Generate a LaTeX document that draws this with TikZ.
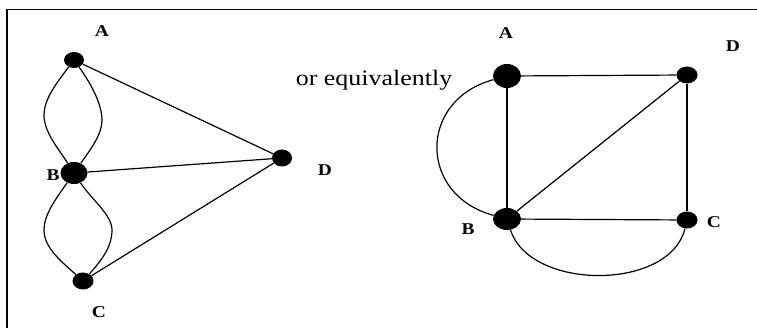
\documentclass[tikz,border=0pt]{standalone}
\usepackage{fontspec}
\setmainfont[FakeStretch=1.18]{Liberation Serif}
\usetikzlibrary{shapes.geometric}
\begin{document}
\begin{tikzpicture}[x=1pt,y=-1pt,
  vtx/.style={ellipse,fill=black,draw=none,inner sep=0pt},
  sm/.style={vtx,minimum width=20pt,minimum height=16pt},
  bg/.style={vtx,minimum width=27pt,minimum height=22pt},
  lbl/.style={font=\fontsize{16.5}{16.5}\selectfont\bfseries,inner sep=0pt},
  edge/.style={line width=1.2pt,line join=round}]
\useasboundingbox (0,0) rectangle (757,328);
\draw[line width=1.6pt] (7,328) -- (7,9.5) -- (757,9.5);
% left graph
\node[sm] (A) at (74,60) {};
\node[bg] (B) at (74,173) {};
\node[sm,minimum width=21pt,minimum height=17pt] (C) at (83,281) {};
\node[sm,minimum height=17pt] (D) at (282,158) {};
\node[lbl] (lA) at (102,31) {A};
\node[lbl] (lB) at (53,175) {B};
\node[lbl] (lC) at (99,312) {C};
\node[lbl] (lD) at (325,170) {D};
\draw[edge] (A) .. controls (55,85) and (44,100) .. (44,115) .. controls (44,132) and (58,148) .. (B);
\draw[edge] (A) .. controls (92,85) and (102,105) .. (102,120) .. controls (102,135) and (90,150) .. (B);
\draw[edge] (B) .. controls (55,200) and (44,215) .. (44,230) .. controls (44,248) and (62,262) .. (C);
\draw[edge] (B) .. controls (92,200) and (112,215) .. (112,230) .. controls (112,248) and (100,262) .. (C);
\draw[edge] (A) -- (D);
\draw[edge] (B) -- (D);
\draw[edge] (C) -- (D);
% text
\node[font=\fontsize{22}{22}\selectfont,inner sep=0pt] (t) at (374,80) {or equivalently};
% right graph
\node[bg,minimum width=28pt,minimum height=24pt] (A2) at (507,76) {};
\node[sm,minimum width=21pt,minimum height=17pt] (D2) at (687,75) {};
\node[bg,minimum width=28pt,minimum height=22pt] (B2) at (507,219) {};
\node[sm,minimum width=21pt,minimum height=17pt] (C2) at (687,220) {};
\node[lbl] (lA2) at (506,33) {A};
\node[lbl] (lD2) at (733,46) {D};
\node[lbl] (lB2) at (468,229) {B};
\node[lbl] (lC2) at (714,222) {C};
\draw[edge] (A2) -- (D2);
\draw[edge] (A2) -- (B2);
\draw[edge] (B2) -- (D2);
\draw[edge] (B2) -- (C2);
\draw[edge] (D2) -- (C2);
\draw[edge] (A2) .. controls (418,100) and (418,195) .. (B2);
\draw[edge] (B2) .. controls (530,291) and (670,291) .. (C2);
\end{tikzpicture}
\end{document}
